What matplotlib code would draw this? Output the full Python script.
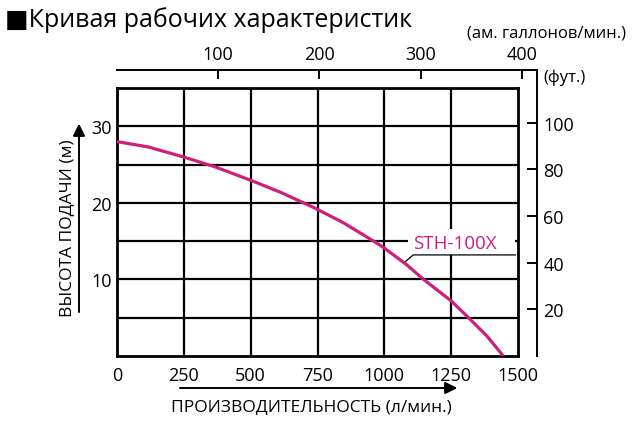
import numpy as np
from matplotlib import pyplot as plt
from matplotlib.patches import Rectangle

plt.rcParams['font.family'] = ['Open Sans', 'DejaVu Sans']

##################################################################################
### DATA
##################################################################################
flow_lpm = [0, 117, 248, 367, 504, 617, 741, 847, 960, 1000, 1084, 1147, 1250, 1315, 1384, 1445]
head_m = [28.0, 27.3, 26.0, 24.7, 22.9, 21.3, 19.3, 17.4, 15.0, 14.1, 11.9, 10.0, 7.2, 5.0, 2.6, 0.0]
model = 'STH-100X'

x_ticks = [0, 250, 500, 750, 1000, 1250, 1500]
y_ticks = [10, 20, 30]
grid_x = [250, 500, 750, 1000, 1250]
grid_y = [5, 10, 15, 20, 25, 30]
gpm_ticks = [100, 200, 300, 400]
ft_ticks = [20, 40, 60, 80, 100]

LPM_PER_GPM = 3.785
M_PER_FT = 0.3048

title = '■Кривая рабочих характеристик'
xlabel = 'ПРОИЗВОДИТЕЛЬНОСТЬ (л/мин.)'
ylabel = 'ВЫСОТА ПОДАЧИ (м)'
gpm_label = '(ам. галлонов/мин.)'
ft_label = '(фут.)'

pink = '#cc1f7e'

##################################################################################
### FIGURE
##################################################################################
W, H = 640, 427
fig = plt.figure(figsize=(W / 100, H / 100), dpi=100)

# main grid box (pixel layout)
L, B, AW, AH = 117, 70, 401, 268
ax = fig.add_axes([L / W, B / H, AW / W, AH / H])
ax.set_xlim(0, 1500)
ax.set_ylim(0, 35)
ax.set_xticks(x_ticks)
ax.set_yticks(y_ticks)
ax.tick_params(axis='both', length=0, labelsize=13)
ax.tick_params(axis='x', pad=7)
ax.tick_params(axis='y', pad=4)
for gx in grid_x:
    ax.axvline(gx, color='black', lw=1.6, zorder=0.5)
for gy in grid_y:
    ax.axhline(gy, color='black', lw=1.6, zorder=0.5)
for s in ax.spines.values():
    s.set_linewidth(2.0)

ax.plot(flow_lpm, head_m, color=pink, lw=2.3, zorder=3,
        solid_capstyle='round', solid_joinstyle='round')

# label with white patch covering the grid
ax.add_patch(Rectangle((1089, 13.2), 401, 3.4, facecolor='white', edgecolor='none', zorder=1))
ax.plot([1078, 1108, 1490], [12.3, 13.2, 13.2], color='black', lw=0.9, zorder=2)
ax.text(1265, 14.8, model, color=pink, fontsize=13.5, ha='center', va='center', zorder=4)

# secondary scales (US gallons / feet), drawn as an outer frame
EW, EH = 420, 286
ax2 = fig.add_axes([L / W, B / H, EW / W, EH / H], facecolor='none')
ax2.set_xlim(0, 1500 / LPM_PER_GPM * EW / AW)
ax2.set_ylim(0, 35 / M_PER_FT * EH / AH)
for side in ['left', 'bottom']:
    ax2.spines[side].set_visible(False)
for side in ['top', 'right']:
    ax2.spines[side].set_linewidth(1.4)
ax2.xaxis.tick_top()
ax2.yaxis.tick_right()
ax2.set_xticks(gpm_ticks)
ax2.set_yticks(ft_ticks)
ax2.tick_params(axis='x', direction='in', length=6.5, width=1.4, pad=5, labelsize=13)
ax2.tick_params(axis='y', direction='in', length=7, width=1.4, pad=4.5, labelsize=13)

# unit labels
fig.text(626 / W, (H - 33) / H, gpm_label, ha='right', va='center', fontsize=12)
fig.text(543 / W, (H - 78) / H, ft_label, ha='left', va='center', fontsize=12)

# axis titles with arrows
fig.text(311 / W, 20 / H, xlabel, ha='center', va='center', fontsize=12.5)
fig.text(67 / W, 199 / H, ylabel, ha='center', va='center', rotation=90, fontsize=12.5)
fig.add_artist(plt.annotate('', xy=(457, 38), xytext=(180, 38), xycoords='figure pixels',
                            textcoords='figure pixels',
                            arrowprops=dict(arrowstyle='-|>', lw=1.2, color='black',
                                            mutation_scale=18, shrinkA=0, shrinkB=0)))
fig.add_artist(plt.annotate('', xy=(79, 302), xytext=(79, 114), xycoords='figure pixels',
                            textcoords='figure pixels',
                            arrowprops=dict(arrowstyle='-|>', lw=1.2, color='black',
                                            mutation_scale=18, shrinkA=0, shrinkB=0)))

fig.text(5 / W, (H - 20) / H, title, ha='left', va='center', fontsize=18)

fig.savefig('out.png', dpi=100)
